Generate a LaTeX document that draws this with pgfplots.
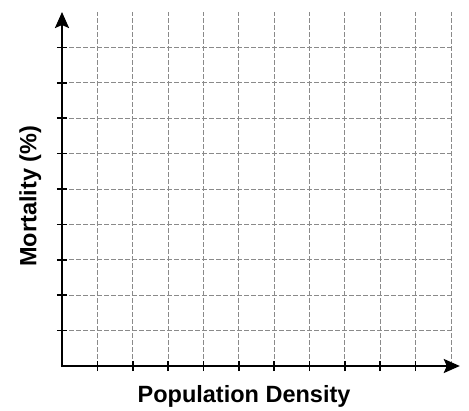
\documentclass[border=0pt]{standalone}
\usepackage{fontspec}
\setmainfont{Liberation Sans}
\usepackage{pgfplots}
\pgfplotsset{compat=1.18}
\usetikzlibrary{arrows.meta}
\definecolor{gridgray}{HTML}{8A8A8A}
\begin{document}
\begin{tikzpicture}
\useasboundingbox (0,0) rectangle (469bp,411bp);
\begin{axis}[
  at={(62bp,45bp)}, anchor=south west,
  scale only axis,
  x=35.36bp, y=35.4bp,
  xmin=0, xmax=11, ymin=0, ymax=10,
  clip=false,
  axis lines=left,
  axis line style={draw=none},
  xtick={1,...,10}, ytick={1,...,9},
  extra x ticks={11},
  extra x tick style={major tick length=0pt, grid=major},
  xticklabels={}, yticklabels={}, extra x tick labels={},
  tick align=center, major tick length=10bp,
  every tick/.style={line width=1.6bp, black},
  grid=major,
  major grid style={gridgray, line width=0.9bp, dash pattern=on 4.5bp off 2.5bp},
  xlabel={Population Density},
  ylabel={Mortality (\%)},
  label style={font=\fontsize{23.5bp}{28bp}\selectfont\bfseries},
  xlabel style={at={(axis description cs:0.468,-0.1045)}, anchor=base},
  ylabel style={at={(axis description cs:-0.066,0.48)}, anchor=base},
]
\draw[line width=2.4bp, -{Stealth[length=16bp,width=14bp,inset=3bp]}] (axis cs:0,-0.03) -- (axis cs:0,10);
\draw[line width=2.4bp, -{Stealth[length=16bp,width=14bp,inset=3bp]}] (axis cs:-0.03,0) -- (axis cs:11.25,0);
\end{axis}
\end{tikzpicture}
\end{document}
